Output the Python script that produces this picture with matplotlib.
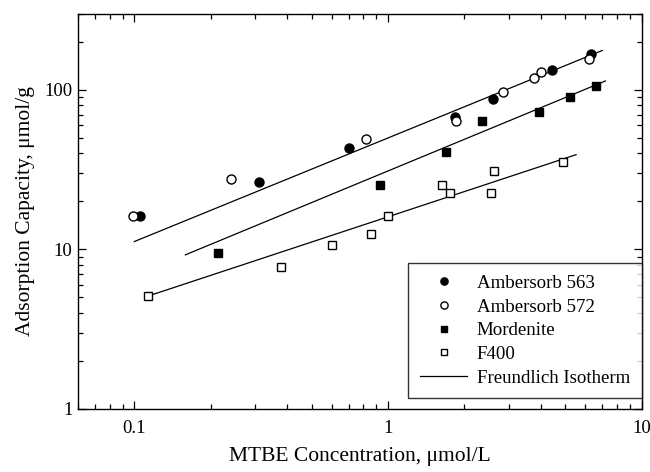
import matplotlib
matplotlib.use('Agg')
import matplotlib.pyplot as plt
import numpy as np
from matplotlib.ticker import LogLocator, NullFormatter, FixedLocator, FixedFormatter

plt.rcParams['font.family'] = ['Liberation Serif', 'DejaVu Serif']

# Data (MTBE conc. umol/L, capacity umol/g)
a563_x = [0.105, 0.31, 0.70, 1.84, 2.60, 4.42, 6.32]
a563_y = [16.2, 26.5, 43.1, 68, 88, 133, 168]

a572_x = [0.099, 0.241, 0.82, 1.85, 2.85, 3.76, 4.02, 6.21]
a572_y = [16.1, 27.6, 49.5, 64, 96.8, 119, 130, 157]

mord_x = [0.214, 0.933, 1.69, 2.34, 3.93, 5.22, 6.63]
mord_y = [9.47, 25.5, 40.7, 64, 73, 90, 106]

f400_x = [0.1135, 0.380, 0.602, 0.86, 1.0, 1.63, 1.75, 2.55, 2.62, 4.9]
f400_y = [5.11, 7.80, 10.67, 12.5, 16.1, 25.4, 22.7, 22.7, 30.9, 35.2]

# Freundlich fits q = K * C^n, with the C range each line covers
fit_K = [49.9, 31.0, 16.0]
fit_n = [0.649, 0.658, 0.525]
fit_range = [(0.1, 7.0), (0.159, 7.2), (0.117, 5.52)]

fig = plt.figure(figsize=(6.5, 4.72), dpi=100)
ax = fig.add_axes([0.12, 0.1335, 0.867, 0.8375])

ax.plot(a563_x, a563_y, 'o', color='black', ms=6.5, label='Ambersorb 563', zorder=3)
ax.plot(a572_x, a572_y, 'o', mfc='white', mec='black', mew=1.0, ms=6.5,
        label='Ambersorb 572', zorder=3)
ax.plot(mord_x, mord_y, 's', color='black', ms=6, label='Mordenite', zorder=3)
ax.plot(f400_x, f400_y, 's', mfc='white', mec='black', mew=1.0, ms=6,
        label='F400', zorder=3)

for i, (K, n, (c0, c1)) in enumerate(zip(fit_K, fit_n, fit_range)):
    c = np.array([c0, c1])
    ax.plot(c, K * c ** n, '-', color='black', lw=0.9,
            label='Freundlich Isotherm' if i == 0 else None, zorder=2)

ax.set_xscale('log')
ax.set_yscale('log')
ax.set_xlim(0.06, 10)
ax.set_ylim(1, 300)

ax.xaxis.set_major_locator(FixedLocator([0.1, 1, 10]))
ax.xaxis.set_major_formatter(FixedFormatter(['0.1', '1', '10']))
ax.yaxis.set_major_locator(FixedLocator([1, 10, 100]))
ax.yaxis.set_major_formatter(FixedFormatter(['1', '10', '100']))
ax.xaxis.set_minor_locator(LogLocator(base=10, subs=np.arange(2, 10)))
ax.yaxis.set_minor_locator(LogLocator(base=10, subs=np.arange(2, 10)))
ax.xaxis.set_minor_formatter(NullFormatter())
ax.yaxis.set_minor_formatter(NullFormatter())

ax.tick_params(which='both', direction='in', top=True, right=True, labelsize=13.5,
               width=0.9, color='black')
ax.tick_params(which='major', length=6)
ax.tick_params(which='minor', length=3.5)
ax.tick_params(axis='x', which='major', pad=8)
ax.tick_params(axis='y', which='major', pad=4)
for s in ax.spines.values():
    s.set_linewidth(1.0)

ax.set_xlabel('MTBE Concentration, \u03bcmol/L', fontsize=15.5)
ax.set_ylabel('Adsorption Capacity, \u03bcmol/g', fontsize=15.5)
ax.xaxis.set_label_coords(0.5, -0.095)
ax.yaxis.set_label_coords(-0.076, 0.5)

leg = ax.legend(loc='lower right', bbox_to_anchor=(1.0, 0.027), fontsize=13.6,
                frameon=True, fancybox=False, edgecolor='black',
                handlelength=2.5, borderaxespad=0.0, borderpad=0.62,
                labelspacing=0.34, handletextpad=0.5, markerscale=0.8)
leg.get_frame().set_linewidth(1.0)

fig.savefig('out.png', dpi=100)
